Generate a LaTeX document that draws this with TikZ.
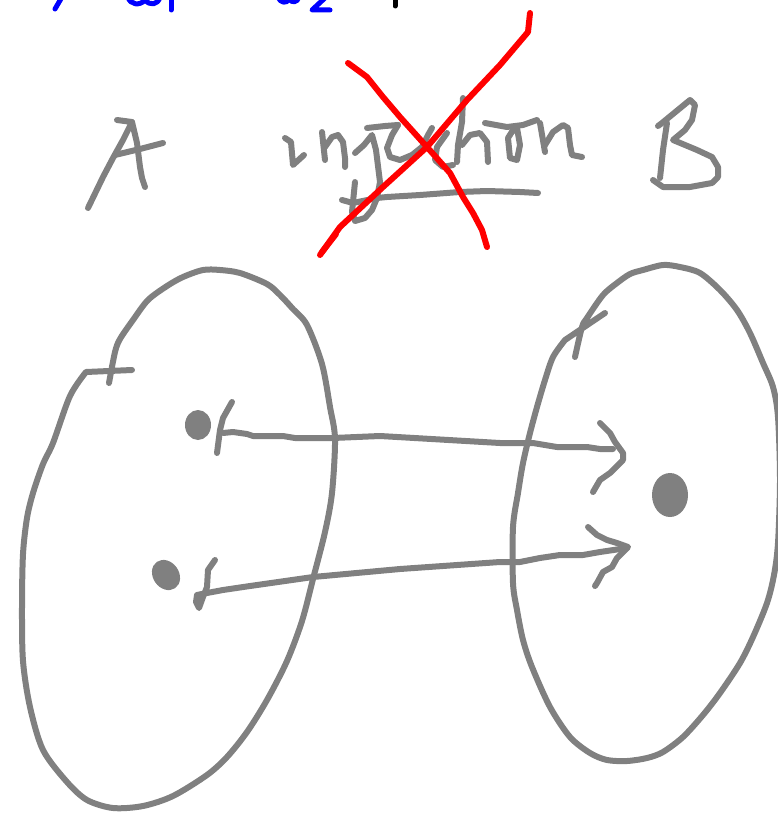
\documentclass[tikz,border=0pt]{standalone}
\begin{document}
\begin{tikzpicture}[x=1pt,y=-1pt,
  pen/.style={draw=gray, line width=6pt, line cap=round, line join=round},
  redpen/.style={draw=red, line width=6pt, line cap=round, line join=round},
  bluepen/.style={draw=blue, line width=5pt, line cap=round, line join=round},
  blackpen/.style={draw=black, line width=5pt, line cap=round},
  blob/.style={fill=gray}]
\useasboundingbox (0,0) rectangle (778,816);
% blue partial line at the top
\draw[bluepen] (55,9) -- (62,-3);
\draw[bluepen] (128,-3) .. controls (130,5) and (140,6) .. (145,0) .. controls (150,6) and (158,5) .. (160,-3);
\draw[bluepen] (171,-3) -- (171,10);
\draw[bluepen] (278,-3) .. controls (280,3) and (287,4) .. (289,-1) .. controls (292,3) and (297,3) .. (299,-3);
\draw[bluepen] (326,-3) -- (312,10) -- (330,10);
\draw[blackpen] (395,-3) -- (395,6);
% A
\draw[pen] (88,208) -- (103,177) -- (113,158) -- (123,140) -- (132,122) -- (117,120);
\draw[pen] (132,122) -- (137,143) -- (140,167) -- (142,178) -- (145,187);
\draw[pen] (115,155) -- (140,149) -- (163,143);
% B
\draw[pen] (667,123) -- (663,150) -- (660,178);
\draw[pen] (658,126) -- (662,123) -- (690,100) -- (695,105) -- (692,120) -- (685,130) -- (673,140) -- (697,150) -- (712,157) -- (718,167) -- (718,177) -- (712,183) -- (690,187) -- (663,187) -- (653,180);
% injection
\draw[pen] (285,138) -- (291,142) -- (293,165) -- (304,155);
\draw[pen] (322,132) -- (325,160);
\draw[pen] (325,147) -- (332,137) -- (338,135) -- (343,142) -- (345,158) -- (345,167);
\draw[pen] (355,153) -- (364,145) -- (372,135) -- (376,150) -- (380,182) -- (377,198) -- (372,210) -- (365,218) -- (355,221) -- (352,212) -- (353,202) -- (355,182);
\draw[pen] (367,128) -- (385,126) -- (398,125);
\draw[pen] (398,125) -- (392,135) -- (387,148) -- (390,157) -- (400,160) -- (412,155) -- (422,147) -- (428,135) -- (432,128);
\draw[pen] (447,133) -- (437,147) -- (435,160) -- (443,167) -- (453,165);
\draw[pen] (463,98) -- (462,122) -- (458,145) -- (457,162);
\draw[pen] (462,145) -- (470,135) -- (480,133) -- (487,142) -- (488,162);
\draw[pen] (485,123) -- (507,127) -- (523,125) -- (537,120);
\draw[pen] (515,127) -- (508,138) -- (510,158) -- (517,160) -- (520,145) -- (517,128);
\draw[pen] (540,123) -- (545,152);
\draw[pen] (545,145) -- (553,132) -- (563,125) -- (568,128) -- (570,145) -- (572,155) -- (582,157);
\draw[pen] (342,200) -- (353,203) -- (377,198) -- (387,197) -- (420,195) -- (460,192) -- (487,191) -- (520,192) -- (538,193);
% red cross
\draw[redpen] (348,63) -- (367,77) -- (383,97) -- (400,117) -- (427,147) -- (450,173) -- (463,197) -- (473,213) -- (482,230) -- (487,247);
\draw[redpen] (530,13) -- (528,32) -- (500,65) -- (467,100) -- (427,147) -- (383,187) -- (340,227) -- (320,255);
\draw[redpen] (336,234) -- (322,252);
% left set
\draw[pen] plot[smooth, tension=0.5] coordinates {(109,383) (115,352) (120,339) (133,320) (148,300) (167,286) (183,277) (203,270) (220,270) (240,273) (267,284) (280,295) (293,309) (307,325) (322,364) (330,407) (335,439) (332,493) (325,532) (313,579) (302,621) (287,661) (267,700) (247,732) (227,757) (207,775) (173,796) (143,806) (113,808) (87,800) (67,782) (43,750) (30,707) (23,661) (22,607) (23,554) (27,518) (33,493) (43,464) (53,443) (70,396) (86,372)} -- (132,370);
% right set
\draw[pen] plot[smooth, tension=0.5] coordinates {(575,357) (582,327) (587,318) (603,295) (617,283) (630,274) (643,270) (663,265) (680,267) (700,273) (720,290) (737,310) (750,333) (763,363) (773,387) (778,417) (780,480) (778,543) (774,575) (767,603) (753,637) (740,663) (720,693) (703,715) (683,737) (663,752) (647,758) (627,761) (607,760) (590,753) (570,737) (550,707) (532,667) (523,640) (517,610) (513,583) (513,527) (518,493) (523,463) (530,433) (537,407) (545,380) (553,357) (565,340)} -- (605,313);
% dots
\fill[blob] (198,425) ellipse [x radius=13, y radius=15];
\fill[blob, rotate around={35:(166,575)}] (166,575) ellipse [x radius=13, y radius=16];
\fill[blob] (670,495) ellipse [x radius=18, y radius=22];
% arrow 1
\draw[pen] (232,402) -- (223,418) -- (220,430) -- (217,453);
\draw[pen] (223,433) -- (233,432) -- (247,434) -- (253,436) -- (283,436) -- (295,438) -- (333,438) -- (380,436) -- (500,443) -- (533,443) -- (557,447) -- (587,447) -- (600,449) -- (613,449);
\draw[pen] (600,423) -- (610,433) -- (615,442) -- (623,453) -- (623,460) -- (610,473) -- (600,480) -- (593,492);
% arrow 2
\draw[pen] (215,560) -- (208,570) -- (207,587) -- (203,597) -- (199,608) -- (196,602) -- (197,595) -- (207,593) -- (223,590) -- (250,586) -- (313,577) -- (400,569) -- (500,562) -- (520,562) -- (540,558) -- (560,555) -- (583,555) -- (600,552) -- (627,548);
\draw[pen] (588,527) -- (597,535) -- (607,540) -- (617,543) -- (628,547) -- (617,558) -- (612,567) -- (603,572) -- (597,583) -- (595,586);
\end{tikzpicture}
\end{document}
